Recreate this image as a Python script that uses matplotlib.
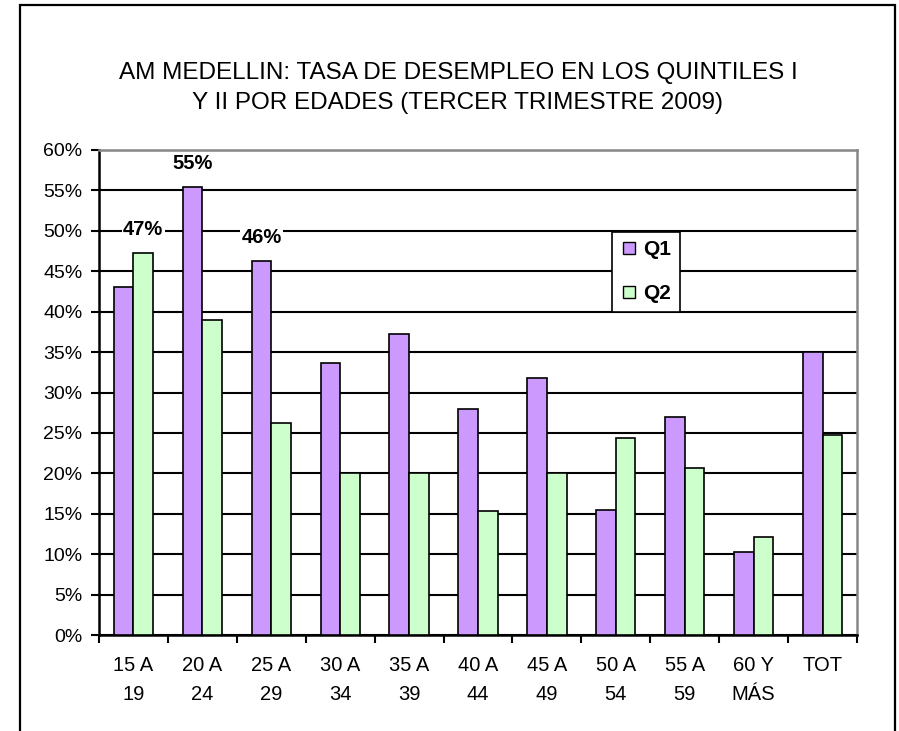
import matplotlib
matplotlib.use("Agg")
import matplotlib.pyplot as plt
import numpy as np
from matplotlib.patches import Rectangle
from matplotlib.lines import Line2D
from matplotlib.ticker import FuncFormatter, FixedLocator

# Datos
edades = ["15 A\n19", "20 A\n24", "25 A\n29", "30 A\n34", "35 A\n39", "40 A\n44",
          "45 A\n49", "50 A\n54", "55 A\n59", "60 Y\nMÁS", "TOT"]
q1 = [43.1, 55.4, 46.3, 33.6, 37.2, 27.9, 31.8, 15.5, 27.0, 10.3, 35.0]
q2 = [47.3, 39.0, 26.2, 20.0, 20.0, 15.3, 20.0, 24.4, 20.7, 12.1, 24.8]
etiquetas = {(1, 0): "47%", (0, 1): "55%", (0, 2): "46%"}  # (serie, categoria)

plt.rcParams["font.family"] = ["Liberation Sans", "DejaVu Sans"]

fig = plt.figure(figsize=(8.99, 7.31), dpi=100)
ax = fig.add_axes([99 / 899, 1 - 635 / 731, (857 - 99) / 899, (635 - 150) / 731])

x = np.arange(len(edades))
ancho = 0.285
ax.bar(x - ancho / 2, q1, ancho, color="#CC99FF", edgecolor="black", linewidth=1.2, zorder=3)
ax.bar(x + ancho / 2, q2, ancho, color="#CCFFCC", edgecolor="black", linewidth=1.2, zorder=3)

# Etiquetas de datos
for (serie, i), txt in etiquetas.items():
    xs = x[i] - ancho / 2 if serie == 0 else x[i] + ancho / 2
    ys = q1[i] if serie == 0 else q2[i]
    ax.annotate(txt, (xs, ys), xytext=(0, 17), textcoords="offset points",
                ha="center", va="center", fontsize=14.5, fontweight="bold", zorder=5,
                bbox=dict(facecolor="white", edgecolor="none", pad=1))

ax.set_xlim(-0.5, len(edades) - 0.5)
ax.set_ylim(0, 60)
ax.set_yticks(np.arange(0, 61, 5))
ax.yaxis.set_major_formatter(FuncFormatter(lambda v, p: f"{v:.0f}%"))
ax.yaxis.grid(True, color="black", linewidth=1.5, zorder=0)

ax.set_xticks(x)
ax.set_xticklabels(edades, linespacing=1.7)
ax.xaxis.set_minor_locator(FixedLocator(np.arange(-0.5, len(edades), 1)))
ax.tick_params(axis="x", which="major", length=0, pad=15, labelsize=14.5)
ax.tick_params(axis="x", which="minor", length=6, width=1.5, direction="out")
ax.tick_params(axis="y", length=6, width=1.5, pad=6, labelsize=14)

for lado in ["left", "bottom"]:
    ax.spines[lado].set_color("black")
    ax.spines[lado].set_linewidth(1.8)
for lado in ["top", "right"]:
    ax.spines[lado].set_color("#888888")
    ax.spines[lado].set_linewidth(1.8)

# Leyenda
handles = [Line2D([], [], marker="s", linestyle="none", markersize=9,
                  markerfacecolor="#CC99FF", markeredgecolor="black"),
           Line2D([], [], marker="s", linestyle="none", markersize=9,
                  markerfacecolor="#CCFFCC", markeredgecolor="black")]
leg = ax.legend(handles, ["Q1", "Q2"], loc="upper left",
                bbox_to_anchor=(612 / 899, 1 - 232 / 731), bbox_transform=fig.transFigure,
                prop={"weight": "bold", "size": 15}, fancybox=False, framealpha=1,
                edgecolor="black", handlelength=0.8, handletextpad=0.3,
                labelspacing=1.2, borderpad=0.4, borderaxespad=0)
leg.get_frame().set_linewidth(1.2)
leg.set_zorder(6)

# Título
fig.text(458 / 899, 1 - 88 / 731,
         "AM MEDELLIN: TASA DE DESEMPLEO EN LOS QUINTILES I\nY II POR EDADES (TERCER TRIMESTRE 2009)",
         ha="center", va="center", fontsize=17.5, linespacing=1.45)

# Marco exterior
fig.patches.append(Rectangle((20 / 899, -0.05), (895 - 20) / 899, 1.05 - 5 / 731,
                             transform=fig.transFigure, fill=False, edgecolor="black",
                             linewidth=1.6))

fig.savefig("out.png", dpi=100)
